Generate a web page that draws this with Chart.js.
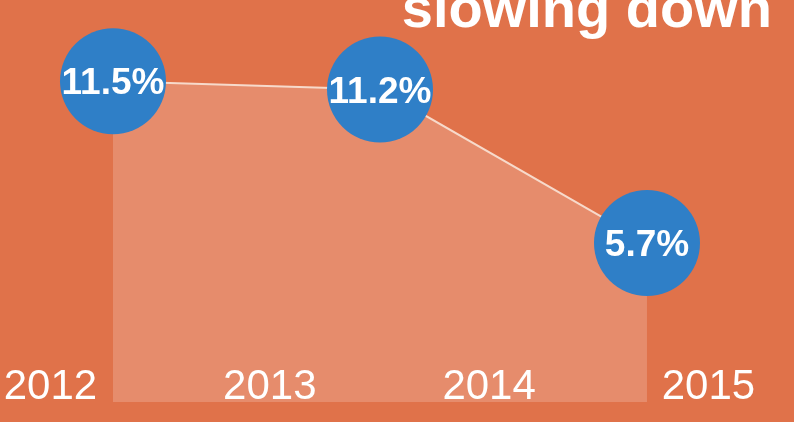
<!DOCTYPE html>
<html>
<head>
<meta charset="utf-8">
<script src="https://cdn.jsdelivr.net/npm/chart.js@4.4.1/dist/chart.umd.min.js"></script>
<style>
  html, body { margin: 0; padding: 0; background: #E0724A; }
  #c { display: block; }
</style>
</head>
<body>
<canvas id="c" width="794" height="422"></canvas>
<script>
// ---- data ----
const years = ['2012', '2013', '2014', '2015'];
const growth = [11.5, 11.2, 5.7];
const growthLabels = ['11.5%', '11.2%', '5.7%'];
const titleText = 'slowing down';

// ---- styles ----
const BG = '#E0724A';
const AREA = '#E68C6C';
const LINE = '#F7DACB';
const BUBBLE = '#2F7FC7';
const FONT = '"Liberation Sans", Arial, Helvetica, sans-serif';

const yearValues = years.map(Number);
const points = growth.map((v, i) => ({ x: i, y: v }));

const bgPlugin = {
  id: 'bg',
  beforeDraw(chart) {
    const ctx = chart.ctx;
    ctx.save();
    ctx.fillStyle = BG;
    ctx.fillRect(0, 0, chart.width, chart.height);
    ctx.restore();
  }
};

const labelPlugin = {
  id: 'bubbleLabels',
  afterDatasetsDraw(chart) {
    const ctx = chart.ctx;
    const meta = chart.getDatasetMeta(0);
    ctx.save();
    ctx.fillStyle = '#FFFFFF';
    ctx.font = 'bold 37px ' + FONT;
    ctx.textAlign = 'center';
    ctx.textBaseline = 'alphabetic';
    meta.data.forEach((el, i) => {
      ctx.fillText(growthLabels[i], el.x, el.y + 13);
    });
    ctx.restore();
  },
  afterDraw(chart) {
    const ctx = chart.ctx;
    ctx.save();
    ctx.fillStyle = '#FFFFFF';
    ctx.font = 'bold 56px ' + FONT;
    ctx.textAlign = 'right';
    ctx.textBaseline = 'alphabetic';
    ctx.fillText(titleText, 772, 27);
    ctx.restore();
  }
};

new Chart(document.getElementById('c'), {
  type: 'line',
  data: {
    datasets: [{
      data: points,
      xAxisID: 'xi',
      yAxisID: 'y',
      fill: 'origin',
      backgroundColor: AREA,
      borderColor: LINE,
      borderWidth: 2,
      tension: 0,
      pointRadius: 53,
      pointHoverRadius: 53,
      pointBackgroundColor: BUBBLE,
      pointBorderWidth: 0,
      pointBorderColor: BUBBLE,
      clip: false
    }]
  },
  options: {
    responsive: false,
    animation: false,
    events: [],
    layout: { padding: 0, autoPadding: false },
    plugins: {
      legend: { display: false },
      tooltip: { enabled: false },
      title: { display: false }
    },
    scales: {
      x: {
        type: 'linear',
        position: 'bottom',
        min: 2011.77,
        max: 2015.39,
        afterBuildTicks(scale) {
          scale.ticks = yearValues.map(v => ({ value: v }));
        },
        afterFit(scale) { scale.height = 20; },
        grid: { display: false, drawTicks: false },
        border: { display: false },
        ticks: {
          z: 1,
          mirror: true,
          padding: -11,
          color: '#FFFFFF',
          font: { family: FONT, size: 42 },
          maxRotation: 0,
          autoSkip: false,
          callback(value) {
            const i = yearValues.indexOf(value);
            return i >= 0 ? years[i] : '';
          }
        }
      },
      xi: {
        type: 'linear',
        display: false,
        min: -0.4232,
        max: 2.5506
      },
      y: {
        type: 'linear',
        display: false,
        min: 0,
        max: 14.41
      }
    }
  },
  plugins: [bgPlugin, labelPlugin]
});
</script>
</body>
</html>
